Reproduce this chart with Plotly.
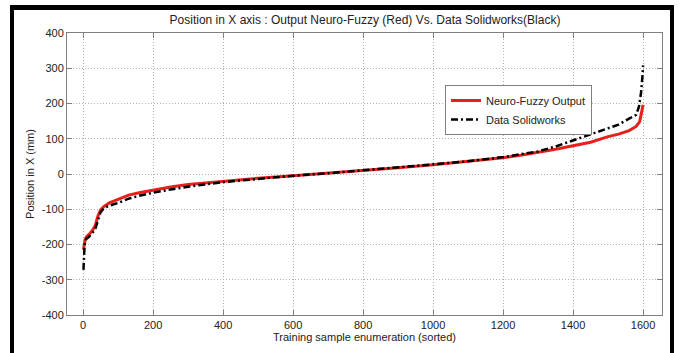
import plotly.graph_objects as go

# Data
nf_x = [1, 3, 6, 10, 15, 20, 28, 35, 42, 50, 60, 75, 100, 130, 160, 200, 250, 300, 400, 500, 600, 700, 800, 900, 1000, 1100, 1200, 1250, 1300, 1350, 1400, 1450, 1500, 1530, 1560, 1580, 1590, 1596, 1600]
nf_y = [-215, -195, -185, -178, -174, -168, -158, -145, -120, -102, -92, -82, -72, -60, -53, -45, -37, -30, -20, -12, -5, 2, 10, 18, 26, 35, 46, 53, 61, 70, 80, 90, 106, 113, 123, 135, 148, 175, 196]

sw_x = [1, 2, 4, 6, 10, 15, 20, 28, 35, 42, 50, 60, 75, 100, 130, 160, 200, 250, 300, 400, 500, 600, 700, 800, 900, 1000, 1100, 1200, 1250, 1300, 1350, 1400, 1450, 1500, 1530, 1560, 1580, 1588, 1594, 1598, 1600]
sw_y = [-272, -240, -205, -190, -183, -180, -175, -165, -155, -130, -108, -97, -90, -82, -70, -62, -53, -44, -36, -23, -13, -5, 2, 10, 18, 26, 36, 48, 55, 64, 78, 95, 112, 128, 140, 157, 168, 190, 230, 275, 308]

x_ticks = [0, 200, 400, 600, 800, 1000, 1200, 1400, 1600]
y_ticks = [-400, -300, -200, -100, 0, 100, 200, 300, 400]
y_labels = ["-400", "-300", "-200", "-100", "0", "100", "200", "300", "400"]

fig = go.Figure()
fig.add_trace(go.Scatter(x=nf_x, y=nf_y, mode="lines", name="Neuro-Fuzzy Output",
                         line=dict(color="#e8201c", width=3)))
fig.add_trace(go.Scatter(x=sw_x, y=sw_y, mode="lines", name="Data Solidworks",
                         line=dict(color="black", width=2.5, dash="7px,3px,2px,3px")))

L, R, T, B = 67, 17, 33, 38
W, H = 679, 353
pw, ph = W - L - R, H - T - B

def px(X):
    return (X - L) / pw

def py(Y):
    return (H - B - Y) / ph

# black frame around the image (left, top, right)
for x0, x1, y0, y1 in [(10, 14, 5, 353), (10, 674, 5, 10), (670, 674, 5, 353)]:
    fig.add_shape(type="rect", xref="paper", yref="paper",
                  x0=px(x0), x1=px(x1), y0=py(y1), y1=py(y0),
                  fillcolor="black", line=dict(width=0), layer="above")

FONT = "Liberation Sans, Arial"
axis_common = dict(showline=True, linecolor="#808080", linewidth=1, mirror="ticks",
                   ticks="inside", ticklen=5, tickcolor="#808080",
                   showgrid=True, gridcolor="#b0b0b0", griddash="1px,2px", gridwidth=1,
                   zeroline=False, tickfont=dict(family=FONT, size=11, color="#222"))

fig.update_layout(
    width=W, height=H,
    margin=dict(l=L, r=R, t=T, b=B),
    paper_bgcolor="white", plot_bgcolor="white",
    title=dict(text="Position in X axis : Output Neuro-Fuzzy (Red) Vs. Data Solidworks(Black)",
               x=365 / W, xanchor="center", y=1 - 20 / H, yanchor="middle",
               font=dict(family=FONT, size=12, color="#222")),
    xaxis=dict(range=[-46, 1654], tickvals=x_ticks,
               title=dict(text="Training sample enumeration (sorted)", standoff=2,
                          font=dict(family=FONT, size=11, color="#222")),
               **axis_common),
    yaxis=dict(range=[-400, 400], tickvals=y_ticks, ticktext=y_labels,
               title=dict(text="Position in X (mm)", standoff=4,
                          font=dict(family=FONT, size=11, color="#222")),
               **axis_common),
    legend=dict(x=px(445), y=py(85), xanchor="left", yanchor="top",
                bgcolor="white", bordercolor="#808080", borderwidth=1,
                font=dict(family=FONT, size=11, color="#222"),
                tracegroupgap=0, itemwidth=30),
    showlegend=True,
)

fig.write_html("out.html")
